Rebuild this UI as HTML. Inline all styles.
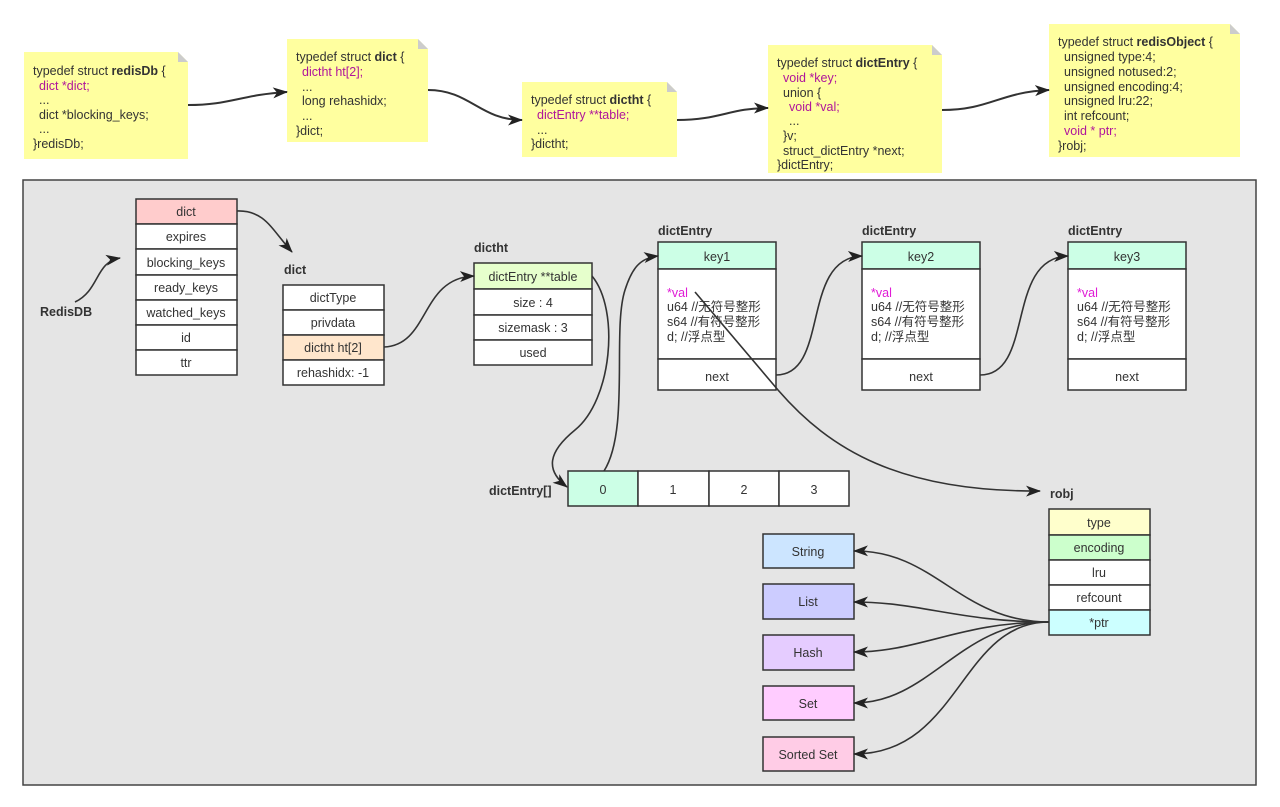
<!DOCTYPE html>
<html><head><meta charset="utf-8"><style>
html,body{margin:0;padding:0;background:#fff;}
svg{display:block;}
text{font-family:"Liberation Sans","Noto Sans CJK SC",sans-serif;font-size:12.5px;fill:#333;}
.b{font-weight:bold;}
.m{fill:#b0169b;}
.p{fill:#e01bd6;}
</style></head><body>
<svg width="1280" height="807" viewBox="0 0 1280 807" xmlns="http://www.w3.org/2000/svg">
<defs>
<marker id="a" markerWidth="15" markerHeight="12" refX="14" refY="6" orient="auto" markerUnits="userSpaceOnUse" viewBox="0 0 15 12">
<path d="M0,0.5 L15,6 L0,11.5 L4,6 Z" fill="#222"/></marker>
</defs>
<!-- notes -->
<g fill="#ffff9f">
<path d="M24,52 H178 L188,62 V159 H24 Z"/>
<path d="M287,39 H418 L428,49 V142 H287 Z"/>
<path d="M522,82 H667 L677,92 V157 H522 Z"/>
<path d="M768,45 H932 L942,55 V173 H768 Z"/>
<path d="M1049,24 H1230 L1240,34 V157 H1049 Z"/>
</g>
<g fill="#ccc">
<path d="M178,52 L188,62 H178Z"/><path d="M418,39 L428,49 H418Z"/><path d="M667,82 L677,92 H667Z"/><path d="M932,45 L942,55 H932Z"/><path d="M1230,24 L1240,34 H1230Z"/>
</g>
<text x="33" y="75">typedef struct <tspan class="b">redisDb</tspan> {</text>
<text x="39" y="90" class="m">dict *dict;</text>
<text x="39" y="104">...</text>
<text x="39" y="119">dict *blocking_keys;</text>
<text x="39" y="133">...</text>
<text x="33" y="148">}redisDb;</text>

<text x="296" y="61">typedef struct <tspan class="b">dict</tspan> {</text>
<text x="302" y="76" class="m">dictht ht[2];</text>
<text x="302" y="91">...</text>
<text x="302" y="105">long rehashidx;</text>
<text x="302" y="120">...</text>
<text x="296" y="135">}dict;</text>

<text x="531" y="104">typedef struct <tspan class="b">dictht</tspan> {</text>
<text x="537" y="119" class="m">dictEntry **table;</text>
<text x="537" y="134">...</text>
<text x="531" y="148">}dictht;</text>

<text x="777" y="67">typedef struct <tspan class="b">dictEntry</tspan> {</text>
<text x="783" y="82" class="m">void *key;</text>
<text x="783" y="97">union {</text>
<text x="789" y="111" class="m">void *val;</text>
<text x="789" y="125">...</text>
<text x="783" y="140">}v;</text>
<text x="783" y="155">struct_dictEntry *next;</text>
<text x="777" y="169">}dictEntry;</text>

<text x="1058" y="46">typedef struct <tspan class="b">redisObject</tspan> {</text>
<text x="1064" y="61">unsigned type:4;</text>
<text x="1064" y="76">unsigned notused:2;</text>
<text x="1064" y="91">unsigned encoding:4;</text>
<text x="1064" y="105">unsigned lru:22;</text>
<text x="1064" y="120">int refcount;</text>
<text x="1064" y="135" class="m">void * ptr;</text>
<text x="1058" y="150">}robj;</text>

<g fill="none" stroke="#333" stroke-width="2" marker-end="url(#a)">
<path d="M188,105 C230,105 240,95 287,92"/>
<path d="M428,90 C470,90 480,120 522,120"/>
<path d="M677,120 C720,120 730,108 768,108"/>
<path d="M942,110 C990,110 1000,92 1049,90"/>
</g>

<!-- panel -->
<rect x="23" y="180" width="1233" height="605" fill="#e5e5e5" stroke="#444" stroke-width="1.5"/>

<g stroke="#333" stroke-width="1.5">
<rect x="136" y="199" width="101" height="25" fill="#ffcccc"/>
<rect x="136" y="224" width="101" height="25" fill="#fff"/>
<rect x="136" y="249" width="101" height="26" fill="#fff"/>
<rect x="136" y="275" width="101" height="25" fill="#fff"/>
<rect x="136" y="300" width="101" height="25" fill="#fff"/>
<rect x="136" y="325" width="101" height="25" fill="#fff"/>
<rect x="136" y="350" width="101" height="25" fill="#fff"/>
<rect x="283" y="285" width="101" height="25" fill="#fff"/>
<rect x="283" y="310" width="101" height="25" fill="#fff"/>
<rect x="283" y="335" width="101" height="25" fill="#ffe6cc"/>
<rect x="283" y="360" width="101" height="25" fill="#fff"/>
<rect x="474" y="263" width="118" height="26" fill="#e6ffcc"/>
<rect x="474" y="289" width="118" height="26" fill="#fff"/>
<rect x="474" y="315" width="118" height="25" fill="#fff"/>
<rect x="474" y="340" width="118" height="25" fill="#fff"/>
<rect x="658" y="242" width="118" height="27" fill="#ccffe6"/>
<rect x="658" y="269" width="118" height="90" fill="#fff"/>
<rect x="658" y="359" width="118" height="31" fill="#fff"/>
<rect x="862" y="242" width="118" height="27" fill="#ccffe6"/>
<rect x="862" y="269" width="118" height="90" fill="#fff"/>
<rect x="862" y="359" width="118" height="31" fill="#fff"/>
<rect x="1068" y="242" width="118" height="27" fill="#ccffe6"/>
<rect x="1068" y="269" width="118" height="90" fill="#fff"/>
<rect x="1068" y="359" width="118" height="31" fill="#fff"/>
<rect x="568" y="471" width="70" height="35" fill="#ccffe6"/>
<rect x="638" y="471" width="71" height="35" fill="#fff"/>
<rect x="709" y="471" width="70" height="35" fill="#fff"/>
<rect x="779" y="471" width="70" height="35" fill="#fff"/>
<rect x="1049" y="509" width="101" height="26" fill="#ffffcc"/>
<rect x="1049" y="535" width="101" height="25" fill="#ccffcc"/>
<rect x="1049" y="560" width="101" height="25" fill="#fff"/>
<rect x="1049" y="585" width="101" height="25" fill="#fff"/>
<rect x="1049" y="610" width="101" height="25" fill="#ccffff"/>
<rect x="763" y="534" width="91" height="34" fill="#cce5ff"/>
<rect x="763" y="584" width="91" height="35" fill="#ccccff"/>
<rect x="763" y="635" width="91" height="35" fill="#e5ccff"/>
<rect x="763" y="686" width="91" height="34" fill="#ffccff"/>
<rect x="763" y="737" width="91" height="34" fill="#ffcce6"/>
</g>

<g text-anchor="middle">
<text x="186" y="216">dict</text><text x="186" y="241">expires</text><text x="186" y="267">blocking_keys</text>
<text x="186" y="292">ready_keys</text><text x="186" y="317">watched_keys</text><text x="186" y="342">id</text><text x="186" y="367">ttr</text>
<text x="333" y="302">dictType</text><text x="333" y="327">privdata</text><text x="333" y="352">dictht ht[2]</text><text x="333" y="377">rehashidx: -1</text>
<text x="533" y="281">dictEntry **table</text><text x="533" y="307">size :  4</text><text x="533" y="332">sizemask : 3</text><text x="533" y="357">used</text>
<text x="717" y="261">key1</text><text x="717" y="381">next</text>
<text x="921" y="261">key2</text><text x="921" y="381">next</text>
<text x="1127" y="261">key3</text><text x="1127" y="381">next</text>
<text x="603" y="494">0</text><text x="673" y="494">1</text><text x="744" y="494">2</text><text x="814" y="494">3</text>
<text x="1099" y="527">type</text><text x="1099" y="552">encoding</text><text x="1099" y="577">lru</text><text x="1099" y="602">refcount</text><text x="1099" y="627">*ptr</text>
<text x="808" y="556">String</text><text x="808" y="606">List</text><text x="808" y="657">Hash</text><text x="808" y="708">Set</text><text x="808" y="759">Sorted Set</text>
</g>
<g>
<text x="40" y="316" class="b">RedisDB</text>
<text x="284" y="274" class="b">dict</text>
<text x="474" y="252" class="b">dictht</text>
<text x="658" y="235" class="b">dictEntry</text>
<text x="862" y="235" class="b">dictEntry</text>
<text x="1068" y="235" class="b">dictEntry</text>
<text x="489" y="495" class="b">dictEntry[]</text>
<text x="1050" y="498" class="b">robj</text>
</g>
<g>
<text x="667" y="297" class="p">*val</text><text x="667" y="311">u64 //无符号整形</text><text x="667" y="326">s64 //有符号整形</text><text x="667" y="341">d; //浮点型</text>
<text x="871" y="297" class="p">*val</text><text x="871" y="311">u64 //无符号整形</text><text x="871" y="326">s64 //有符号整形</text><text x="871" y="341">d; //浮点型</text>
<text x="1077" y="297" class="p">*val</text><text x="1077" y="311">u64 //无符号整形</text><text x="1077" y="326">s64 //有符号整形</text><text x="1077" y="341">d; //浮点型</text>
</g>

<g fill="none" stroke="#333" stroke-width="1.6" marker-end="url(#a)">
<path d="M75,302 C100,290 95,262 120,258"/>
<path d="M237,211 C265,210 272,230 292,252"/>
<path d="M384,347 C430,345 420,278 474,276"/>
<path d="M592,276 C620,310 612,400 575,430 C548,452 545,470 567,487"/>
<path d="M604,471 C630,430 612,330 625,290 C632,268 640,258 658,256"/>
<path d="M776,375 C830,375 800,258 862,256"/>
<path d="M980,375 C1035,375 1005,258 1068,256"/>
<path d="M695,292 L778,390 C830,450 900,492 1040,491"/>
<path d="M1049,622 C960,622 935,550 854,551"/>
<path d="M1049,622 C960,622 920,602 854,602"/>
<path d="M1049,622 C960,622 920,652 854,652"/>
<path d="M1049,622 C960,622 930,703 854,703"/>
<path d="M1049,622 C960,622 960,754 854,754"/>
</g>
</svg>
</body></html>
